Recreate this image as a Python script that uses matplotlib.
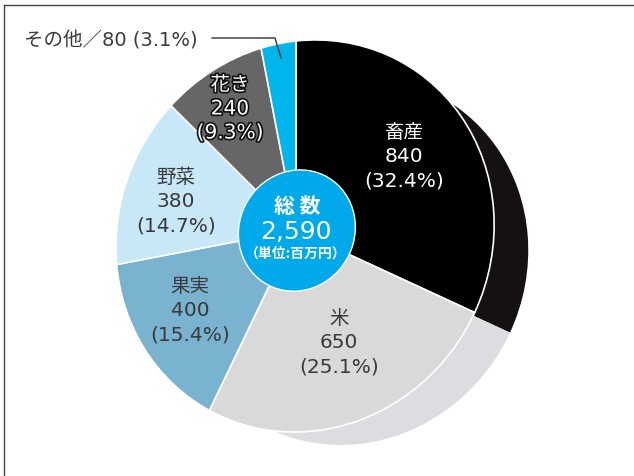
import numpy as np
import matplotlib
matplotlib.use('Agg')
import matplotlib.pyplot as plt
import matplotlib.patches as mpatches
import matplotlib.transforms as mtransforms
import matplotlib.patheffects as pe

JP = ['Noto Sans CJK JP', 'DejaVu Sans']
NUM = ['DejaVu Sans', 'Noto Sans CJK JP']
plt.rcParams['font.family'] = JP

# data
categories = ['畜産', '米', '果実', '野菜', '花き', 'その他']
values = [840, 650, 400, 380, 240, 80]
shares = ['32.4%', '25.1%', '15.4%', '14.7%', '9.3%', '3.1%']
total = 2590
colors = ['#000000', '#d9d9d9', '#79b3d0', '#c8e8f8', '#666666', '#00b5ec']
side_colors = {'畜産': '#151112', '米': '#dcdde0'}


class Tilt(mtransforms.Transform):
    """unit disc -> slightly perspective ellipse in pixel coords (y down)"""
    input_dims = 2
    output_dims = 2
    is_separable = False
    has_inverse = False

    def __init__(self, x0, y0, rx, ry, kx, ky, shear, dx=0.0, dy=0.0, sc=1.0):
        super().__init__()
        self.x0, self.y0, self.rx, self.ry = x0, y0, rx * sc, ry * sc
        self.kx, self.ky, self.shear = kx, ky, shear
        self.dx, self.dy = dx, dy

    def transform_non_affine(self, xy):
        xy = np.asarray(xy, dtype=float)
        u, v = xy[:, 0], xy[:, 1]
        w = 1 + self.kx * u + self.ky * v
        X = self.rx * u / w
        Y = self.ry * v / w
        return np.column_stack([self.x0 + X + self.dx,
                                self.y0 - Y + self.shear * X + self.dy])


fig = plt.figure(figsize=(6.34, 4.77), dpi=100)
ax = fig.add_axes([0, 0, 1, 1])

wedges, _ = ax.pie(values, startangle=90, counterclock=False, colors=colors,
                   radius=1, center=(0, 0),
                   wedgeprops=dict(edgecolor='white', linewidth=1.2))

face = dict(x0=296, y0=231, rx=188.6, ry=195.3, kx=-0.0476, ky=0.0333, shear=-0.06)
face_tr = Tilt(**face)
for w in wedges:
    w.set_transform(face_tr + ax.transData)
    w.set_zorder(3)

# back face of the disc, peeking out on the right
back_tr = Tilt(**face, dx=46, dy=25, sc=0.94)
for w, name in zip(wedges, categories):
    if name not in side_colors:
        continue
    sw = mpatches.Wedge((0, 0), 1, w.theta1, w.theta2,
                        facecolor=side_colors[name], edgecolor='none',
                        transform=back_tr + ax.transData, zorder=1)
    ax.add_patch(sw)

# centre disc
hub = mpatches.Circle((0, 0), 0.31, facecolor='#00a9e9', edgecolor='white',
                      linewidth=1, transform=face_tr + ax.transData, zorder=4)
ax.add_patch(hub)

ax.set_xlim(0, 634)
ax.set_ylim(477, 0)
ax.set_aspect('auto')
ax.axis('off')

# frame lines
ax.plot([4, 4], [477, 6], color='#444444', lw=1, zorder=0)
ax.plot([4, 634], [6, 6], color='#444444', lw=1, zorder=0)

# slice labels
txt = '#3a3a3a'
label_pos = {'畜産': (404, 157, 'white'), '米': (339, 343, txt),
             '果実': (190, 311, txt), '野菜': (176, 202, txt),
             '花き': (230, 110, 'white')}
for name, v, s in zip(categories, values, shares):
    if name not in label_pos:
        continue
    x, y, c = label_pos[name]
    fx = []
    if name == '花き':
        fx = [pe.withStroke(linewidth=2.4, foreground='#111111')]
    ax.text(x, y - 24, name, ha='center', va='center', color=c, family=JP,
            fontsize=14, zorder=6, path_effects=fx)
    ax.text(x, y, f'{v}', ha='center', va='center', color=c, family=NUM,
            fontsize=14.5, zorder=6, path_effects=fx)
    ax.text(x, y + 24, f'({s})', ha='center', va='center', color=c, family=NUM,
            fontsize=14.5, zorder=6, path_effects=fx)

# centre text
ax.text(297, 207, '総 数', ha='center', va='center', color='white',
        fontsize=15, fontweight='bold', zorder=6)
ax.text(296, 232, f'{total:,}', ha='center', va='center', color='white',
        family=NUM, fontsize=18, zorder=6)
ax.text(296, 254, '（単位:百万円）', ha='center', va='center', color='white',
        fontsize=10, fontweight='bold', zorder=6)

# small slice callout
ax.text(24, 41, f'{categories[5]}／{values[5]} ({shares[5]})', ha='left',
        va='center', color=txt, family=NUM, fontsize=14, zorder=6)
ax.plot([212, 275, 281], [39, 39, 59], color='#333333', lw=1, zorder=7)

plt.savefig('out.png', dpi=100)
